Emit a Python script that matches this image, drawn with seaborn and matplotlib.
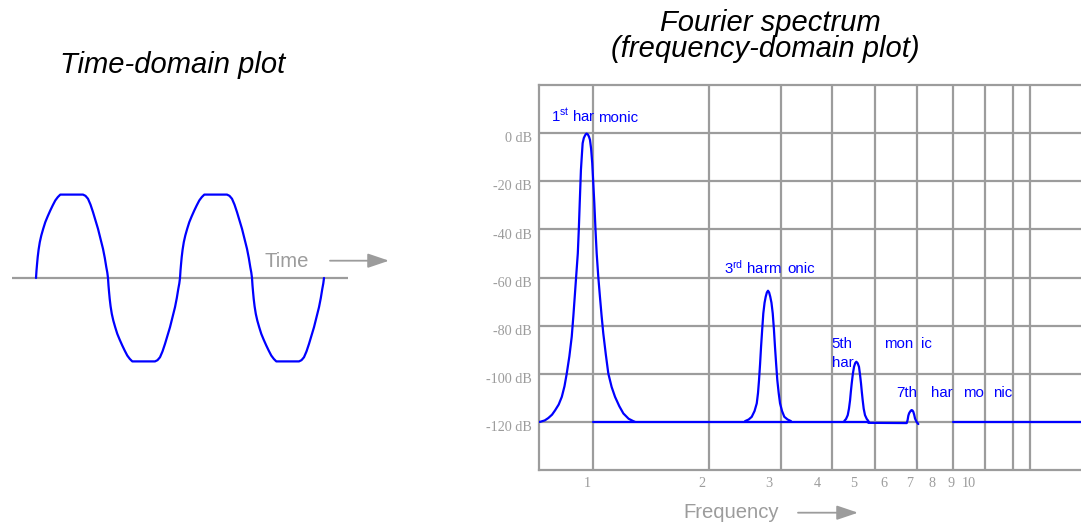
import matplotlib
matplotlib.use("Agg")
import matplotlib.pyplot as plt
from matplotlib.ticker import NullLocator
from matplotlib.transforms import ScaledTranslation
import numpy as np
import pandas as pd
import seaborn as sns

# ---------------- data ----------------
# one half-cycle of the clipped wave (position within half period in 1/72 units, normalised level)
half_pos = [0.0, 0.5, 1.0, 1.7, 2.6, 3.8, 5.3, 7.2, 9.3, 11.7, 14.3, 16.7, 19.3, 21.8, 24.3,
            47.0, 49.5, 52.0, 54.5, 57.0, 59.5, 62.0, 64.5, 67.0, 68.8, 70.3, 71.3, 72.0]
half_level = [0.0, 0.09, 0.16, 0.25, 0.34, 0.43, 0.51, 0.59, 0.67, 0.74, 0.81, 0.87, 0.93, 0.97, 1.0,
              1.0, 0.985, 0.95, 0.88, 0.79, 0.69, 0.59, 0.47, 0.35, 0.24, 0.13, 0.065, 0.0]
half_period = 72.0
n_half_cycles = 4

peak1_freq = [0.749, 0.753, 0.775, 0.792, 0.810, 0.825, 0.843, 0.859, 0.873, 0.885, 0.899,
              0.912, 0.921, 0.930, 0.938, 0.946, 0.952, 0.957, 0.964, 0.970, 0.974, 0.981,
              0.988, 0.993, 0.998, 1.003, 1.008, 1.013, 1.018, 1.025, 1.032, 1.045, 1.052,
              1.060, 1.070, 1.081, 1.092, 1.103, 1.120, 1.137, 1.160, 1.184, 1.215, 1.245,
              1.285, 1.322, 1.335]
peak1_db = [-120, -120, -119.4, -118.4, -117.0, -115.2, -112.8, -109.6, -105.2, -99.9, -92.8,
            -84.6, -76.0, -66.6, -58.2, -50, -39.5, -29.1, -15.3, -8.5, -4.2, -2.0,
            -1.0, -0.4, -0.2, -0.4, -0.9, -1.7, -2.8, -6.5, -12.5, -29.1, -39.5,
            -50, -59.5, -68, -76.0, -83.2, -92.0, -99.9, -105.5, -109.6, -113.5, -116.5,
            -118.7, -119.7, -120]

peak3_freq = [2.592, 2.650, 2.699, 2.745, 2.782, 2.803, 2.820, 2.838, 2.855, 2.875, 2.894,
              2.916, 2.936, 2.957, 2.977, 2.997, 3.018, 3.040, 3.063, 3.085, 3.105, 3.127,
              3.149, 3.175, 3.201, 3.240, 3.285, 3.350, 3.420]
peak3_db = [-119.7, -119.0, -117.9, -115.5, -112.3, -108.0, -102.7, -96.0, -88.8, -81.5, -74.9,
            -70.5, -68, -66.2, -65.5, -66.2, -68, -70.5, -74.9, -81.5, -88.8, -96.0,
            -102.7, -108.0, -112.3, -115.5, -117.9, -119.0, -119.7]

peak5_freq = [4.716, 4.765, 4.814, 4.850, 4.882, 4.905, 4.931, 4.965, 5.000, 5.035, 5.070,
              5.110, 5.152, 5.185, 5.215, 5.240, 5.268, 5.300, 5.342, 5.400, 5.450]
peak5_db = [-119.6, -118.8, -117.2, -114.5, -111, -107.5, -104, -100.0, -97.1, -95.6, -95.0,
            -95.6, -97.1, -100.5, -104, -107.5, -111, -114.5, -117.2, -118.8, -119.6]

peak7_freq = [5.45, 6.870, 6.905, 6.937, 6.970, 7.008, 7.045, 7.079, 7.115, 7.147, 7.185,
              7.222, 7.290, 7.367]
peak7_db = [-120.4, -120.5, -119.3, -117.4, -116.4, -115.8, -115.3, -115.1, -115.3, -115.8, -117.0,
            -118.6, -120.0, -120.9]

floor1_freq = [1.039, 5.48]
floor1_db = [-120, -120]
floor2_freq = [9.097, 19.64]
floor2_db = [-120, -120]

db_ticks = [-120, -100, -80, -60, -40, -20, 0]
db_labels = ["-120 dB", "-100 dB", "-80 dB", "-60 dB", "-40 dB", "-20 dB", "0 dB"]
freq_ticks = [1, 2, 3, 4, 5, 6, 7, 8, 9, 10]
freq_labels = ["1", "2", "3", "4", "5", "6", "7", "8", "9", "10"]
grid_freqs = [1.039, 2.083, 3.215, 4.379, 5.667, 7.322, 9.097, 10.98, 13.02, 14.44]

# ---------------- style ----------------
sns.set_theme(style="white")
plt.rcParams["font.family"] = ["Liberation Sans", "DejaVu Sans"]
plt.rcParams["mathtext.fontset"] = "custom"
plt.rcParams["mathtext.rm"] = "Liberation Sans"
plt.rcParams["mathtext.it"] = "Liberation Sans:italic"
plt.rcParams["mathtext.bf"] = "Liberation Sans:bold"

W, H = 1081, 525
BLUE = "#0000ff"
GREY = "#9c9c9c"
fig = plt.figure(figsize=(W / 100, H / 100), dpi=100)


def fx(x):
    return x / W


def fy(y):
    return 1 - y / H


def T(x, y, s, **kw):
    return fig.text(fx(x), fy(y), s, **kw)


# ---------------- time-domain plot ----------------
ax_t = fig.add_axes([fx(12), fy(376), (348 - 12) / W, (376 - 180) / H])
t_vals, v_vals = [], []
for k in range(n_half_cycles):
    sign = 1 if k % 2 == 0 else -1
    for p, lv in zip(half_pos, half_level):
        if k > 0 and p == 0.0:
            continue
        t_vals.append(k + p / half_period)
        v_vals.append(sign * lv)
wave = pd.DataFrame({"t": t_vals, "v": v_vals})
ax_t.axhline(0, color=GREY, lw=1.6, zorder=1)
sns.lineplot(data=wave, x="t", y="v", ax=ax_t, color=BLUE, lw=1.6,
             sort=False, estimator=None, zorder=2)
ax_t.set_xlim(-1 / 3, n_half_cycles + 1 / 3)
ax_t.set_ylim(-1.175, 1.175)
ax_t.axis("off")

T(172.5, 73.3, "Time-domain plot", fontsize=21, style="italic", ha="center",
  va="baseline", color="black")
T(286.8, 266.7, "Time", fontsize=14.6, color=GREY, ha="center", va="baseline")
ax_t.annotate("", xy=(389, H - 260.7), xytext=(330, H - 260.7),
              xycoords="figure pixels", textcoords="figure pixels",
              arrowprops=dict(arrowstyle="-|>,head_length=0.65,head_width=0.22",
                              mutation_scale=20, color=GREY, lw=1.3,
                              shrinkA=0, shrinkB=0))

# ---------------- spectrum plot ----------------
ax_s = fig.add_axes([fx(539), fy(470), (W - 539) / W, (470 - 85) / H])
ax_s.set_xscale("log")

segs = []
for name, fr, db in [("p1", peak1_freq, peak1_db), ("p3", peak3_freq, peak3_db),
                     ("p5", peak5_freq, peak5_db), ("p7", peak7_freq, peak7_db),
                     ("f1", floor1_freq, floor1_db), ("f2", floor2_freq, floor2_db)]:
    segs.append(pd.DataFrame({"freq": fr, "db": db, "segment": name}))
spec = pd.concat(segs, ignore_index=True)

ax_s.set_axisbelow(True)
for f in grid_freqs:
    ax_s.axvline(f, color=GREY, lw=1.6, zorder=0.5)
sns.lineplot(data=spec, x="freq", y="db", units="segment", estimator=None,
             sort=False, color=BLUE, lw=1.6, ax=ax_s, zorder=3)

ax_s.set_xlim(0.7487, 19.64)
ax_s.set_ylim(-140, 20)
ax_s.set_yticks(db_ticks)
ax_s.set_yticklabels(db_labels, fontfamily="Liberation Serif", fontsize=10.2, color=GREY)
ax_s.set_xticks(freq_ticks)
ax_s.set_xticklabels(freq_labels, fontfamily="Liberation Serif", fontsize=10.2, color=GREY)
ax_s.xaxis.set_minor_locator(NullLocator())
ax_s.tick_params(axis="both", length=0)
ax_s.tick_params(axis="x", pad=5)
ax_s.tick_params(axis="y", pad=5)
ax_s.grid(axis="y", color=GREY, lw=1.6)
ax_s.grid(axis="x", visible=False)
ax_s.set_xlabel("")
ax_s.set_ylabel("")
for side in ["left", "bottom", "top"]:
    ax_s.spines[side].set_visible(True)
    ax_s.spines[side].set_color(GREY)
    ax_s.spines[side].set_linewidth(1.6)
ax_s.spines["right"].set_visible(False)

shift = ScaledTranslation(0, -3 / 72, fig.dpi_scale_trans)
for lab in ax_s.get_yticklabels():
    lab.set_transform(lab.get_transform() + shift)

T(770.5, 30.7, "Fourier spectrum", fontsize=21, style="italic", ha="center",
  va="baseline", color="black")
T(765, 57.3, "(frequency-domain plot)", fontsize=21, style="italic", ha="center",
  va="baseline", color="black")

T(731.3, 518.3, "Frequency", fontsize=14.6, color=GREY, ha="center", va="baseline")
ax_s.annotate("", xy=(858, H - 512.7), xytext=(798, H - 512.7),
              xycoords="figure pixels", textcoords="figure pixels",
              arrowprops=dict(arrowstyle="-|>,head_length=0.65,head_width=0.22",
                              mutation_scale=20, color=GREY, lw=1.3,
                              shrinkA=0, shrinkB=0))

lab_kw = dict(fontsize=10.8, color=BLUE, ha="left", va="baseline")
T(551, 121.7, "1$^{\\mathrm{st}}$ har", **lab_kw)
T(597.7, 121.7, "monic", **lab_kw)
T(724.3, 273.3, "3$^{\\mathrm{rd}}$ harm", **lab_kw)
T(787.3, 273.3, "onic", **lab_kw)
T(831.7, 348.3, "5th", **lab_kw)
T(831.7, 366.7, "har", **lab_kw)
T(884, 348.3, "mon", **lab_kw)
T(921, 348.3, "ic", **lab_kw)
T(896, 396.7, "7th", **lab_kw)
T(930.7, 396.7, "har", **lab_kw)
T(962.7, 396.7, "mo", **lab_kw)
T(992.7, 396.7, "nic", **lab_kw)

fig.savefig("out.png", dpi=100)
